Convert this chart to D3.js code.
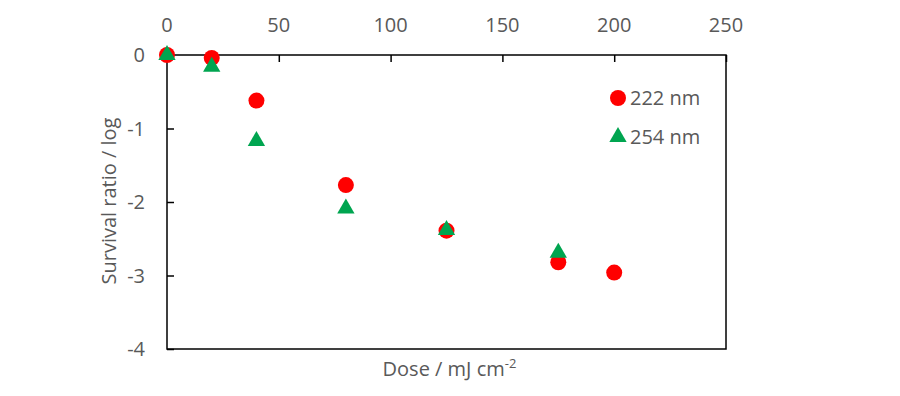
<!DOCTYPE html>
<html>
<head>
<meta charset="utf-8">
<script src="https://cdn.jsdelivr.net/npm/d3@7"></script>
<style>
  body { margin: 0; background: #fff; }
  text { font-family: "Open Sans", "Noto Sans", sans-serif; fill: #595959; }
</style>
</head>
<body>
<div id="chart"></div>
<script>
// data
var dose222 = [0, 20, 40, 80, 125, 175, 200];
var surv222 = [0, -0.04, -0.62, -1.77, -2.39, -2.82, -2.96];
var dose254 = [0, 20, 40, 80, 125, 175];
var surv254 = [0, -0.16, -1.17, -2.09, -2.38, -2.69];
var xTicks = [0, 50, 100, 150, 200, 250];
var yTicks = [0, -1, -2, -3, -4];
var seriesNames = ["222 nm", "254 nm"];

var width = 900, height = 396;
var m = {left: 167, top: 55, right: 174, bottom: 47};

var svg = d3.select("#chart").append("svg")
    .attr("width", width)
    .attr("height", height);

var x = d3.scaleLinear().domain([0, 250]).range([m.left, width - m.right]);
var y = d3.scaleLinear().domain([0, -4]).range([m.top, height - m.bottom]);

// box
svg.append("rect")
    .attr("x", x(0)).attr("y", y(0))
    .attr("width", x(250) - x(0)).attr("height", y(-4) - y(0))
    .attr("fill", "none").attr("stroke", "#000").attr("stroke-width", 1.5);

// x axis on top, ticks pointing in
var xAxis = svg.append("g")
    .attr("transform", "translate(0," + y(0) + ")")
    .call(d3.axisBottom(x).tickValues(xTicks).tickSize(7).tickPadding(0));
xAxis.select(".domain").remove();
xAxis.selectAll("line").attr("stroke", "#000").attr("stroke-width", 1.5);
xAxis.selectAll("text").remove();
svg.append("g").selectAll("text").data(xTicks).enter().append("text")
    .attr("x", function (d) { return x(d); })
    .attr("y", 32)
    .attr("text-anchor", "middle")
    .style("font-size", "20px")
    .text(function (d) { return d; });

// y axis, ticks pointing in
var yAxis = svg.append("g")
    .attr("transform", "translate(" + x(0) + ",0)")
    .call(d3.axisRight(y).tickValues(yTicks).tickSize(7));
yAxis.select(".domain").remove();
yAxis.selectAll("line").attr("stroke", "#000").attr("stroke-width", 1.5);
yAxis.selectAll("text").remove();
svg.append("g").selectAll("text").data(yTicks).enter().append("text")
    .attr("x", 145)
    .attr("y", function (d) { return y(d) + 7; })
    .attr("text-anchor", "end")
    .style("font-size", "20px")
    .text(function (d) { return d; });

// axis titles
svg.append("text")
    .attr("transform", "translate(116," + (y(-2) - 1) + ") rotate(-90)")
    .attr("text-anchor", "middle")
    .style("font-size", "20px")
    .text("Survival ratio / log");

var xt = svg.append("text")
    .attr("x", x(125) + 3)
    .attr("y", 376)
    .attr("text-anchor", "middle")
    .style("font-size", "20px")
    .text("Dose / mJ cm");
xt.append("tspan").attr("dy", -8).style("font-size", "13px").text("-2");

var tri = d3.symbol().type(d3.symbolTriangle).size(130);

// 222 nm points
svg.append("g").selectAll("circle").data(dose222).enter().append("circle")
    .attr("cx", function (d) { return x(d); })
    .attr("cy", function (d, i) { return y(surv222[i]); })
    .attr("r", 8)
    .attr("fill", "#ff0000");

// 254 nm points
svg.append("g").selectAll("path").data(dose254).enter().append("path")
    .attr("d", tri)
    .attr("transform", function (d, i) { return "translate(" + x(d) + "," + y(surv254[i]) + ")"; })
    .attr("fill", "#00a550");

// legend
var lg = svg.append("g").attr("transform", "translate(618,98)");
lg.append("circle").attr("cx", 0).attr("cy", 0).attr("r", 8).attr("fill", "#ff0000");
lg.append("text").attr("x", 12).attr("y", 7).style("font-size", "20px").text(seriesNames[0]);
lg.append("path").attr("d", tri).attr("transform", "translate(0,39)").attr("fill", "#00a550");
lg.append("text").attr("x", 12).attr("y", 46).style("font-size", "20px").text(seriesNames[1]);
</script>
</body>
</html>
